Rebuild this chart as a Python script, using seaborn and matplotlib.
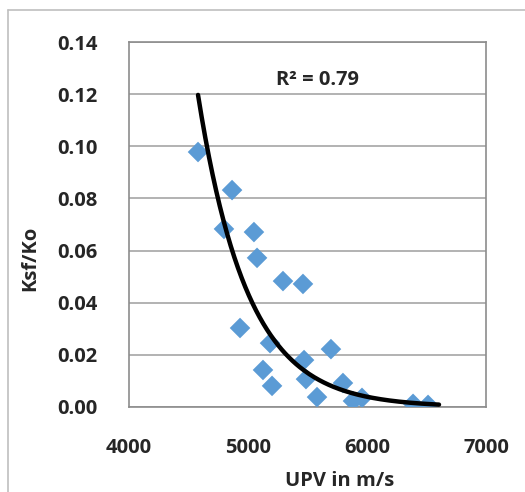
import matplotlib
matplotlib.use("Agg")
import matplotlib.pyplot as plt
import numpy as np
import seaborn as sns
from matplotlib.lines import Line2D

# UPV (m/s) vs Ksf/Ko
upv = [4580, 4866, 4798, 5050, 5076, 5294, 5462, 4933, 5185, 5126,
       5202, 5471, 5697, 5487, 5580, 5798, 5882, 5958, 6387, 6513]
ksf_ko = [0.0978, 0.0832, 0.0683, 0.0671, 0.0572, 0.0483, 0.0472, 0.0303, 0.0245, 0.0142,
          0.0081, 0.0180, 0.0222, 0.0107, 0.0038, 0.0092, 0.0023, 0.0035, 0.0012, 0.0008]
# exponential trendline as drawn in the picture: value at start and decay rate
trend_start = 4580
trend_end = 6605
trend_y0 = 0.1197
trend_rate = -0.002406
r2_text = "R² = 0.79"
x_ticks = [4000, 5000, 6000, 7000]
y_ticks = [0.00, 0.02, 0.04, 0.06, 0.08, 0.10, 0.12, 0.14]

sns.set_style("white")
plt.rcParams["font.family"] = ["Open Sans", "DejaVu Sans"]
plt.rcParams["font.weight"] = "bold"

fig = plt.figure(figsize=(5.25, 4.92), dpi=100)
ax = fig.add_axes([129 / 525, 1 - 407 / 492, 357 / 525, 365 / 492])

sns.scatterplot(x=upv, y=ksf_ko, marker="D", s=110, color="#5B9BD5",
                edgecolor="none", ax=ax, zorder=3)

xs = np.linspace(trend_start, trend_end, 200)
sns.lineplot(x=xs, y=trend_y0 * np.exp(trend_rate * (xs - trend_start)),
             color="black", linewidth=3.2, ax=ax, zorder=4)

ax.text(5580, 0.1254, r2_text, ha="center", va="center", fontsize=14.5,
        fontweight="bold")

ax.set_xlim(4000, 7000)
ax.set_ylim(0, 0.14)
ax.set_xticks(x_ticks)
ax.set_yticks(y_ticks)
ax.set_yticklabels([f"{v:.2f}" for v in y_ticks])
ax.yaxis.grid(True, color="#a6a6a6", linewidth=1.2)
ax.set_axisbelow(True)
for sp in ax.spines.values():
    sp.set_color("#8c8c8c")
    sp.set_linewidth(1.2)
ax.tick_params(axis="both", which="major", length=6.5, width=1.2, color="#8c8c8c",
               labelsize=14.5, direction="out")
ax.tick_params(axis="y", pad=16)
ax.tick_params(axis="x", pad=18, length=4.5)
for lab in ax.get_xticklabels() + ax.get_yticklabels():
    lab.set_fontweight("bold")

ax.set_xlabel("UPV in m/s", fontsize=14.5, fontweight="bold")
ax.set_ylabel("Ksf/Ko", fontsize=14.5, fontweight="bold")
ax.xaxis.set_label_coords(0.591, -0.175)
ax.yaxis.set_label_coords(-0.249, 0.408)

# chart-area border (left and top edges visible)
fig.add_artist(Line2D([8 / 525, 8 / 525], [0, 1 - 10 / 492], color="#bfbfbf",
                      linewidth=1.2, transform=fig.transFigure))
fig.add_artist(Line2D([8 / 525, 1], [1 - 10 / 492, 1 - 10 / 492], color="#bfbfbf",
                      linewidth=1.2, transform=fig.transFigure))

fig.savefig("out.png", dpi=100)
